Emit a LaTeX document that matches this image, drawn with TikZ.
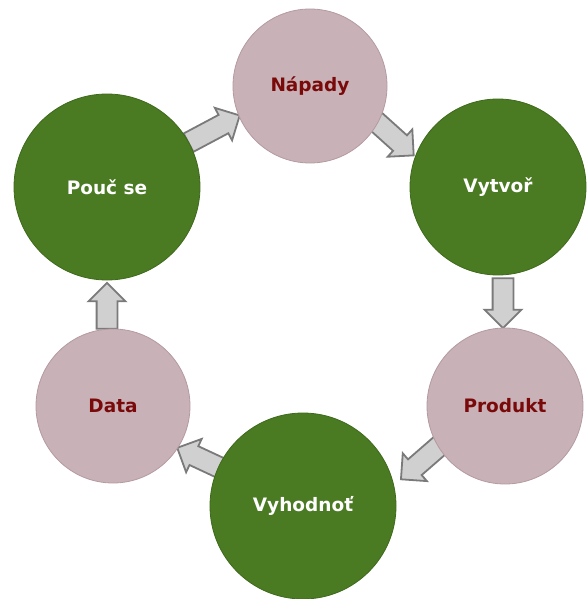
\documentclass[tikz,border=0pt]{standalone}
\usepackage{fontspec}
\setmainfont{DejaVu Sans}
\usetikzlibrary{shapes.arrows}
\definecolor{pinkc}{HTML}{C8B1B7}
\definecolor{pinkd}{HTML}{B49AA1}
\definecolor{greenc}{HTML}{4A7A22}
\definecolor{greend}{HTML}{3F6A1C}
\definecolor{redt}{HTML}{7A0A0A}
\definecolor{arrf}{HTML}{D0D0D0}
\definecolor{arrd}{HTML}{7A7A7A}
\tikzset{
  pinkcirc/.style={circle,fill=pinkc,draw=pinkd,line width=0.8pt,inner sep=0pt,text=redt,font=\fontsize{18.5}{20}\selectfont\bfseries},
  greencirc/.style={circle,fill=greenc,draw=greend,line width=0.8pt,inner sep=0pt,text=white,font=\fontsize{18.5}{20}\selectfont\bfseries},
  blockarrow/.style={single arrow,fill=arrf,draw=arrd,line width=1.8pt,inner xsep=0pt,inner ysep=9.5pt,minimum width=36pt,single arrow head extend=8pt,single arrow tip angle=90}
}
\begin{document}
\begin{tikzpicture}[x=1pt,y=-1pt]
\useasboundingbox (0,0) rectangle (587,599);
\node[blockarrow,minimum height=58pt,rotate=28] (a1) at (209.5,131.5) {};
\node[blockarrow,minimum height=52pt,rotate=-42] (a2) at (390.5,134.5) {};
\node[blockarrow,minimum height=50pt,rotate=-90] (a3) at (503,298) {};
\node[blockarrow,minimum height=56pt,rotate=221] (a4) at (426,457.5) {};
\node[blockarrow,minimum height=52pt,rotate=155] (a5) at (205.5,461) {};
\node[blockarrow,minimum height=46pt,rotate=90] (a6) at (107,311) {};
\node[pinkcirc,minimum size=154pt] (napady) at (310,86) {Nápady};
\node[greencirc,minimum size=176pt] (vytvor) at (498,187) {Vytvoř};
\node[greencirc,minimum size=186pt] (pouc) at (107,187) {Pouč se};
\node[pinkcirc,minimum size=156pt] (produkt) at (505,406) {Produkt};
\node[pinkcirc,minimum size=154pt] (data) at (113,406) {Data};
\node[greencirc,minimum size=186pt] (vyhodnot) at (303,506) {Vyhodnoť};
\end{tikzpicture}
\end{document}
